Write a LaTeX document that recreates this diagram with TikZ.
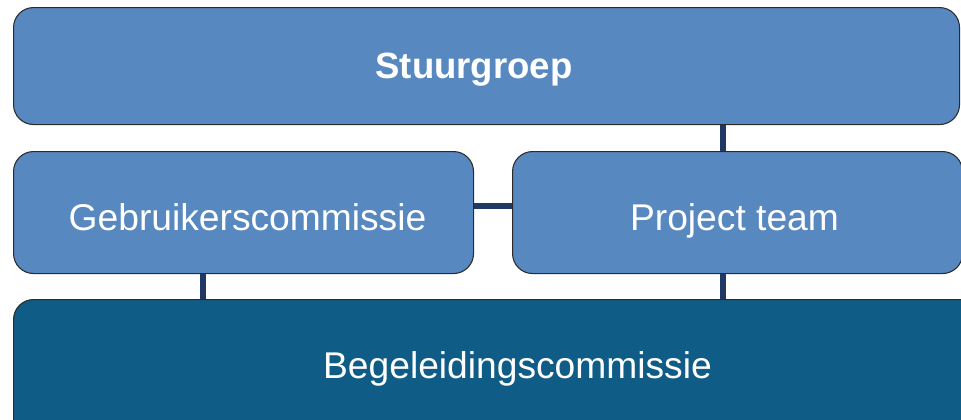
\documentclass[tikz,border=0pt]{standalone}
\usepackage{fontspec}
\setmainfont{Liberation Sans}
\definecolor{lightbox}{HTML}{5788C0}
\definecolor{darkbox}{HTML}{0F5D87}
\definecolor{conn}{HTML}{1F3864}
\definecolor{edge}{HTML}{2B2B2B}
\tikzset{
  box/.style={draw=edge, line width=0.8pt, rounded corners=15pt, inner sep=0pt, anchor=north west},
  lbl/.style={text=white, inner sep=0pt, anchor=base, font=\fontsize{27.9pt}{32pt}\selectfont},
  link/.style={draw=conn, line width=3.8pt}
}
\begin{document}
\begin{tikzpicture}[x=0.75pt,y=-0.75pt]
\useasboundingbox (0,0) rectangle (961,419);
\clip (0,0) rectangle (961,419);
\fill[white] (0,0) rectangle (961,419);
% boxes
\node[box, fill=lightbox, minimum width=946*0.75pt, minimum height=117*0.75pt] (st) at (13,7) {};
\node[box, fill=lightbox, minimum width=460*0.75pt, minimum height=122*0.75pt] (gc) at (13,151) {};
\node[box, fill=lightbox, minimum width=450*0.75pt, minimum height=122*0.75pt] (pt) at (512,151) {};
\node[box, fill=darkbox, minimum width=1008*0.75pt, minimum height=150*0.75pt] (bc) at (13,299) {};
% connector guides
\coordinate (cr) at (723,0);
\coordinate (cl) at (203,0);
\coordinate (ch) at (0,206);
% connectors
\draw[link] (st.south -| cr) -- (pt.north -| cr);
\draw[link] (gc.east |- ch) -- (pt.west |- ch);
\draw[link] (gc.south -| cl) -- (bc.north -| cl);
\draw[link] (pt.south -| cr) -- (bc.north -| cr);
% labels
\node[lbl, font=\bfseries\fontsize{27.4pt}{32pt}\selectfont] (tst) at (474,78) {Stuurgroep};
\node[lbl] (tgc) at (247.5,230) {Gebruikerscommissie};
\node[lbl] (tpt) at (734.5,230) {Project team};
\node[lbl] (tbc) at (517.5,378) {Begeleidingscommissie};
\end{tikzpicture}
\end{document}
